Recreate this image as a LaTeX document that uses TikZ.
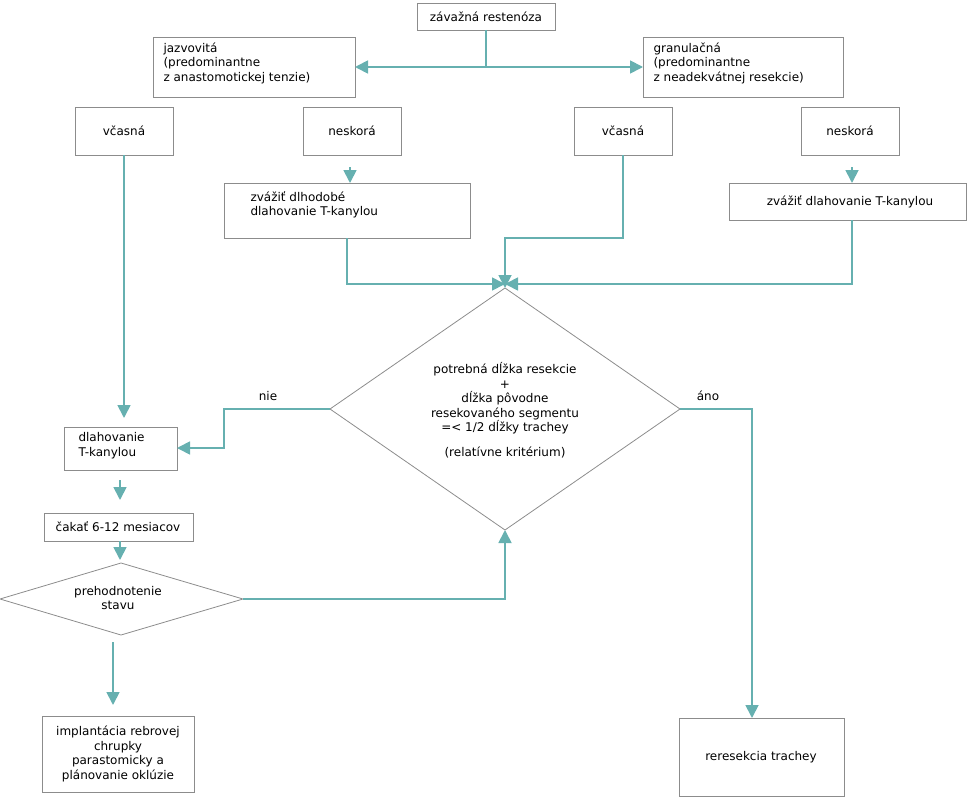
\documentclass[tikz,border=0pt]{standalone}
\usepackage{fontspec}
\setmainfont{DejaVu Sans}
\usetikzlibrary{arrows.meta,shapes.geometric}
\definecolor{teal1}{RGB}{102,176,176}
\definecolor{gr}{RGB}{140,140,140}
\begin{document}
\begin{tikzpicture}[x=1pt,y=-1pt,
  bx/.style={draw=gr,line width=0.8pt},
  conn/.style={draw=teal1,line width=1.8pt,-{Triangle[width=13pt,length=13pt]}},
  plain/.style={draw=teal1,line width=1.8pt},
  tx/.style={font=\fontsize{12}{14.5}\selectfont,align=center}]
\useasboundingbox (0,0) rectangle (967,800);
% boxes
\draw[bx] (417,3) rectangle (555,30); \node[tx] (top) at (486,16.5) {závažná restenóza};
\coordinate (topb) at (486,30);
\draw[bx] (153,37) rectangle (355,97); \node[tx,align=left,anchor=north west] (jaz) at (160,39) {jazvovitá\\(predominantne\\z anastomotickej tenzie)};
\coordinate (jazR) at (355,67);
\draw[bx] (643,37) rectangle (843,97); \node[tx,align=left,anchor=north west] (gra) at (650,39) {granulačná\\(predominantne\\z neadekvátnej resekcie)};
\coordinate (graL) at (643,67);
\draw[bx] (75,107) rectangle (173,155); \node[tx] (v1) at (124,131) {včasná};
\draw[bx] (303,107) rectangle (401,155); \node[tx] (n1) at (352,131) {neskorá};
\draw[bx] (574,107) rectangle (672,155); \node[tx] (v2) at (623,131) {včasná};
\draw[bx] (801,107) rectangle (899,155); \node[tx] (n2) at (850,131) {neskorá};
\draw[bx] (224,183) rectangle (470,238); \node[tx,align=left,anchor=north west] (z1) at (247,188) {zvážiť dlhodobé\\dlahovanie T-kanylou};
\draw[bx] (729,183) rectangle (966,220); \node[tx] (z2) at (850,201.5) {zvážiť dlahovanie T-kanylou};
\draw[draw=gr,line width=0.8pt] (505,288) -- (680,409) -- (505,530) -- (330,409) -- cycle;
\node[tx] (d) at (505,410) {potrebná dĺžka resekcie\\+\\dĺžka pôvodne\\resekovaného segmentu\\=< 1/2 dĺžky trachey\\[10pt](relatívne kritérium)};
\coordinate (dT) at (505,288); \coordinate (dB) at (505,530);
\coordinate (dL) at (330,409); \coordinate (dR) at (680,409);
\draw[bx] (64,427) rectangle (177,470); \node[tx,align=left,anchor=north west] (dl) at (75,429) {dlahovanie\\T-kanylou};
\draw[bx] (44,513) rectangle (193,541); \node[tx] (ca) at (118,527) {čakať 6-12 mesiacov};
\draw[draw=gr,line width=0.8pt] (0,599) -- (121,563) -- (243,599) -- (121,635) -- cycle;
\node[tx] (pr) at (118,598) {prehodnotenie\\stavu};
\draw[bx] (42,716) rectangle (194,792); \node[tx] (im) at (118,754) {implantácia rebrovej\\chrupky\\parastomicky a\\plánovanie oklúzie};
\draw[bx] (679,718) rectangle (844,796); \node[tx] (re) at (761,757) {reresekcia trachey};
% connectors
\draw[plain] (topb) -- (486,67);
\draw[conn] (486,67) -- (jazR);
\draw[conn] (486,67) -- (graL);
\draw[conn] (124,155) -- (124,418);
\draw[conn] (350,167) -- (350,183);
\draw[conn] (852,167) -- (852,183);
\draw[conn] (347,238) -- (347,284) -- (505,284);
\draw[conn] (623,155) -- (623,238) -- (505,238) -- (dT);
\draw[conn] (852,220) -- (852,284) -- (505,284);
\draw[conn] (dL) -- (224,409) -- (224,448) -- (177,448);
\node[tx] at (268,396) {nie};
\draw[conn] (dR) -- (752,409) -- (752,718);
\node[tx] at (708,396) {áno};
\draw[conn] (120,480) -- (120,500);
\draw[conn] (120,541) -- (120,560);
\draw[conn] (243,599) -- (505,599) -- (dB);
\draw[conn] (113,642) -- (113,705);
\end{tikzpicture}
\end{document}
